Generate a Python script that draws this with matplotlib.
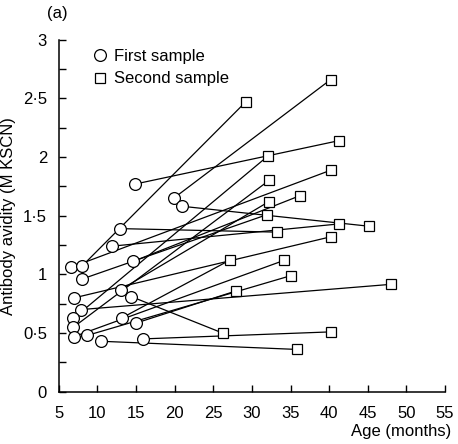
import matplotlib
matplotlib.use("Agg")
import matplotlib.pyplot as plt
from matplotlib.ticker import MultipleLocator

plt.rcParams['font.family'] = ['Liberation Sans', 'DejaVu Sans']

# First sample (age in months, avidity M KSCN)
first_age = [14.9, 19.9, 21.0, 12.9, 11.85, 6.6, 8.0, 14.6, 8.0, 7.0, 13.0,
             14.4, 7.9, 6.9, 6.9, 13.2, 15.0, 7.0, 8.7, 10.4, 15.9]
first_avid = [1.77, 1.65, 1.58, 1.39, 1.24, 1.06, 1.07, 1.11, 0.96, 0.80, 0.87,
              0.81, 0.70, 0.625, 0.55, 0.63, 0.585, 0.47, 0.48, 0.43, 0.45]
# Second sample (paired with first sample by index)
second_age = [41.3, 40.2, 45.2, 33.2, 41.3, 40.3, 29.2, 36.2, 32.0, 40.2, 32.2,
              26.2, 48.0, 32.1, 32.2, 27.1, 28.0, 34.2, 35.1, 35.9, 40.3]
second_avid = [2.14, 2.66, 1.41, 1.36, 1.43, 1.89, 2.47, 1.67, 1.51, 1.32, 1.62,
               0.50, 0.915, 2.01, 1.80, 1.12, 0.86, 1.12, 0.99, 0.36, 0.51]

x_ticks = [5, 10, 15, 20, 25, 30, 35, 40, 45, 50, 55]
y_ticks = [0, 0.5, 1, 1.5, 2, 2.5, 3]
y_labels = ['0', '0·5', '1', '1·5', '2', '2·5', '3']

fig = plt.figure(figsize=(4.58, 4.44), dpi=100)
ax = fig.add_axes([0.1284, 0.1178, 0.9716 - 0.1284, 0.9106 - 0.1178])

for xa, ya, xb, yb in zip(first_age, first_avid, second_age, second_avid):
    ax.plot([xa, xb], [ya, yb], color='black', lw=0.9, zorder=1)

ax.plot(first_age, first_avid, linestyle='none', marker='o', ms=8.5,
        mfc='white', mec='black', mew=0.9, zorder=3, label='First sample')
ax.plot(second_age, second_avid, linestyle='none', marker='s', ms=7,
        mfc='white', mec='black', mew=0.9, zorder=3, label='Second sample')

ax.set_xlim(5, 55)
ax.set_ylim(0, 3)
ax.set_xticks(x_ticks)
ax.set_xticklabels([str(v) for v in x_ticks])
ax.set_yticks(y_ticks)
ax.set_yticklabels(y_labels)
ax.yaxis.set_minor_locator(MultipleLocator(0.25))
ax.tick_params(axis='both', which='both', direction='in', length=5, width=1,
               labelsize=12)
ax.tick_params(axis='x', which='both', pad=10)
ax.tick_params(axis='y', which='both', pad=8.5)
for s in ['top', 'right']:
    ax.spines[s].set_visible(False)
for s in ['left', 'bottom']:
    ax.spines[s].set_linewidth(1.1)

ax.set_xlabel('Age (months)', fontsize=12, ha='right')
ax.xaxis.set_label_coords(1.015, -0.093)
ax.set_ylabel('Antibody avidity (M KSCN)', fontsize=12, labelpad=5)

leg = ax.legend(loc='upper left', bbox_to_anchor=(0.089, 0.974), frameon=False,
                fontsize=12, handletextpad=0.45, labelspacing=0.45,
                handlelength=0.8, borderaxespad=0.0, borderpad=0.0)

fig.text(0.103, 0.986, '(a)', fontsize=12, ha='left', va='top')

fig.savefig('out.png', dpi=100)
